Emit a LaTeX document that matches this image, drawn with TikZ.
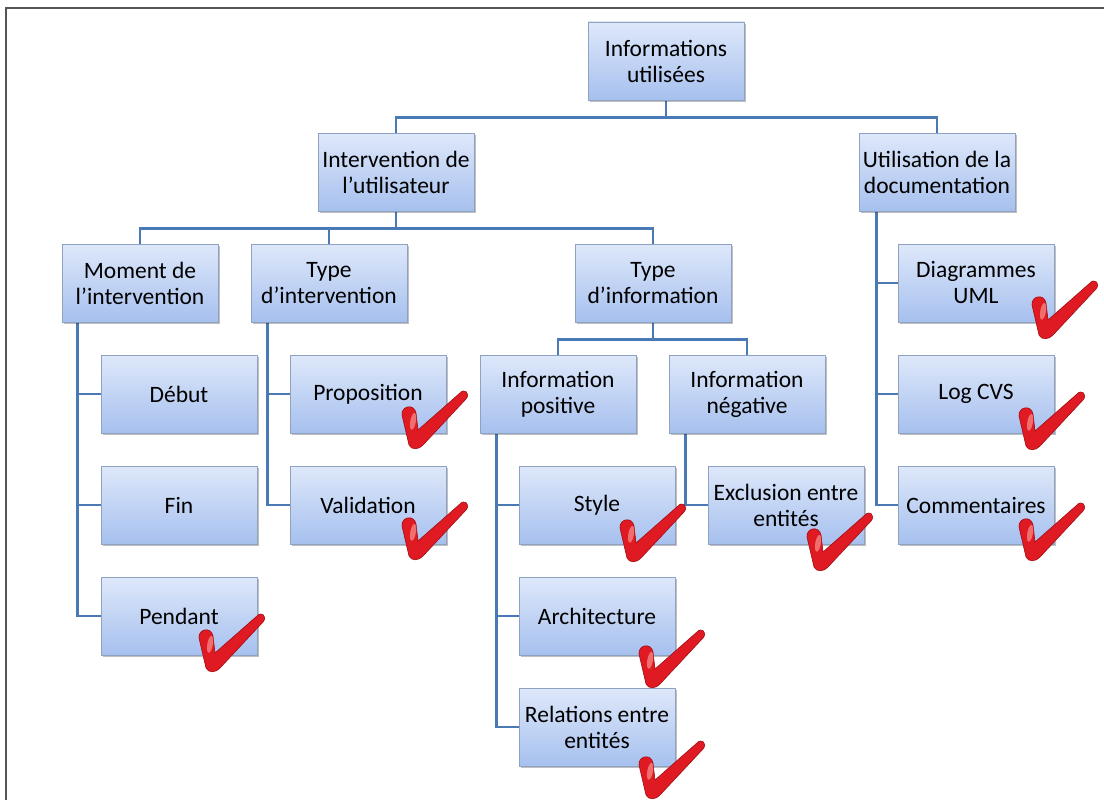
\documentclass[tikz,border=0pt]{standalone}
\usepackage{fontspec}
\setmainfont{Carlito}
\usetikzlibrary{shadows,backgrounds}
\definecolor{boxtop}{HTML}{DEE8FA}
\definecolor{boxbot}{HTML}{A6C0EE}
\definecolor{boxline}{HTML}{8FA2C2}
\definecolor{connc}{HTML}{4A7AB5}
\definecolor{checkred}{HTML}{E01A22}
\definecolor{checkdark}{HTML}{A00D14}
\definecolor{checkhi}{HTML}{F5847F}
\definecolor{framec}{HTML}{555555}
\tikzset{
  box/.style={draw=boxline, line width=0.8pt, top color=boxtop, bottom color=boxbot,
    minimum width=156pt, minimum height=78pt, align=center,
    font=\fontsize{23.5}{26}\selectfont, inner sep=2pt,
    drop shadow={shadow xshift=2pt, shadow yshift=-2pt, opacity=0.25, fill=black}},
  conn/.style={draw=connc, line width=2.5pt},
  pics/tick/.style={code={
    \filldraw[fill=checkred, draw=checkdark, line width=0.6pt]
      (-13,-30) .. controls (-14,-39) and (-1,-42) .. (1,-32)
      -- (3,-15)
      -- (45,-52) .. controls (49,-57) and (56,-52) .. (51,-46)
      -- (8,0) .. controls (4,5) and (-4,5) .. (-6,0)
      -- cycle;
    \fill[checkhi, opacity=0.8, rotate=-10] (-6,-23) ellipse [x radius=2.8, y radius=8.5];
  }}
}
\begin{document}
\begin{tikzpicture}[x=1pt,y=-1pt]
\useasboundingbox (0,0) rectangle (1104,800);
\draw[framec, line width=2pt] (6,800) -- (6,8) -- (1104,8);

\node[box] (root) at (666,61) {Informations\\utilisées};
\node[box] (inter) at (396,172) {Intervention de\\l’utilisateur};
\node[box] (util) at (937,172) {Utilisation de la\\documentation};
\node[box] (moment) at (140,283) {Moment de\\l’intervention};
\node[box] (typeint) at (329,283) {Type\\d’intervention};
\node[box] (typeinfo) at (653,283) {Type\\d’information};
\node[box] (diag) at (976,283) {Diagrammes\\UML};
\node[box] (debut) at (179,394) {Début};
\node[box] (prop) at (368,394) {Proposition};
\node[box] (infopos) at (558,394) {Information\\positive};
\node[box] (infoneg) at (747,394) {Information\\négative};
\node[box] (logcvs) at (976,394) {Log CVS};
\node[box] (fin) at (179,505) {Fin};
\node[box] (valid) at (368,505) {Validation};
\node[box] (style) at (597,505) {Style};
\node[box] (excl) at (786,505) {Exclusion entre\\entités};
\node[box] (comm) at (976,505) {Commentaires};
\node[box] (pendant) at (179,616) {Pendant};
\node[box] (archi) at (597,616) {Architecture};
\node[box] (rel) at (597,727) {Relations entre\\entités};

\begin{scope}[on background layer]
\draw[conn] (root.south) -- ++(0,17) -| (inter.north);
\draw[conn] (root.south) -- ++(0,17) -| (util.north);
\draw[conn] (inter.south) -- ++(0,17) -| (moment.north);
\draw[conn] (inter.south) -- ++(0,17) -| (typeint.north);
\draw[conn] (inter.south) -- ++(0,17) -| (typeinfo.north);
\draw[conn] (typeinfo.south) -- ++(0,17) -| (infopos.north);
\draw[conn] (typeinfo.south) -- ++(0,17) -| (infoneg.north);
\draw[conn] ([xshift=16pt]moment.south west) |- (debut.west);
\draw[conn] ([xshift=16pt]moment.south west) |- (fin.west);
\draw[conn] ([xshift=16pt]moment.south west) |- (pendant.west);
\draw[conn] ([xshift=17pt]typeint.south west) |- (prop.west);
\draw[conn] ([xshift=17pt]typeint.south west) |- (valid.west);
\draw[conn] ([xshift=17pt]infopos.south west) |- (style.west);
\draw[conn] ([xshift=17pt]infopos.south west) |- (archi.west);
\draw[conn] ([xshift=17pt]infopos.south west) |- (rel.west);
\draw[conn] ([xshift=17pt]infoneg.south west) |- (excl.west);
\draw[conn] ([xshift=18pt]util.south west) |- (diag.west);
\draw[conn] ([xshift=18pt]util.south west) |- (logcvs.west);
\draw[conn] ([xshift=18pt]util.south west) |- (comm.west);
\end{scope}

\pic at (212,668) {tick};
\pic at (415,445) {tick};
\pic at (415,556) {tick};
\pic at (633,558) {tick};
\pic at (820,567) {tick};
\pic at (652,684) {tick};
\pic at (652,795) {tick};
\pic at (1045,335) {tick};
\pic at (1032,446) {tick};
\pic at (1032,557) {tick};
\end{tikzpicture}
\end{document}
